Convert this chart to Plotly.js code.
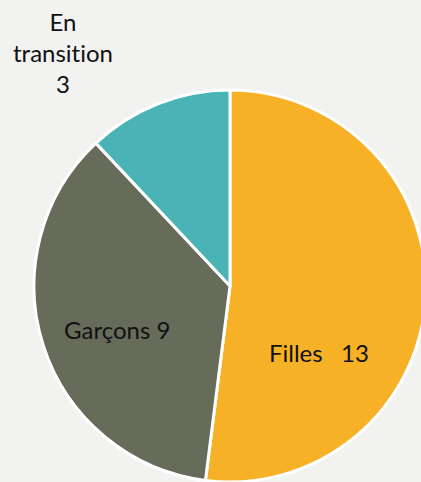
<!DOCTYPE html>
<html>
<head>
<meta charset="utf-8">
<script src="https://cdn.plot.ly/plotly-3.0.1.min.js"></script>
<style>
html,body{margin:0;padding:0;background:#f2f2f1;overflow:hidden;width:421px;height:482px;}
#chart{width:460px;height:572px;}
text, tspan{font-variant-ligatures:none !important;font-feature-settings:"liga" 0, "clig" 0 !important;}
</style>
</head>
<body>
<div id="chart"></div>
<script>
const categories = ['Filles', 'Garçons', 'En transition'];
const values = [13, 9, 3];
const colors = ['#F7B126', '#676B5A', '#49B3B6'];
const labelText = [
  categories[0] + '&nbsp;&nbsp;&nbsp;' + values[0],
  categories[1] + ' ' + values[1],
  'En<br>transition<br>' + values[2]
];

const W = 460, H = 572, cx = 230, cy = 286, R = 196;
const trace = {
  type: 'pie',
  labels: categories,
  values: values,
  marker: {colors: colors, line: {color: '#ffffff', width: 3}},
  sort: false,
  direction: 'clockwise',
  rotation: 0,
  textinfo: 'none',
  hoverinfo: 'label+value',
  domain: {x: [(cx - R) / W, (cx + R) / W], y: [(H - cy - R) / H, (H - cy + R) / H]}
};
const font = {family: 'Lato, "Open Sans", sans-serif', size: 24, color: '#111111'};
const annPos = [[319, 352], [117, 330], [63, 52]];
const annotations = labelText.map((t, i) => ({
  text: t, x: annPos[i][0] / W, y: 1 - annPos[i][1] / H, xref: 'paper', yref: 'paper',
  showarrow: false, font: font, xanchor: 'center', yanchor: 'middle'
}));
Plotly.newPlot('chart', [trace], {
  width: W, height: H,
  margin: {l: 0, r: 0, t: 0, b: 0},
  paper_bgcolor: '#f2f2f1',
  plot_bgcolor: '#f2f2f1',
  showlegend: false,
  annotations: annotations
}, {staticPlot: true});
</script>
</body>
</html>
